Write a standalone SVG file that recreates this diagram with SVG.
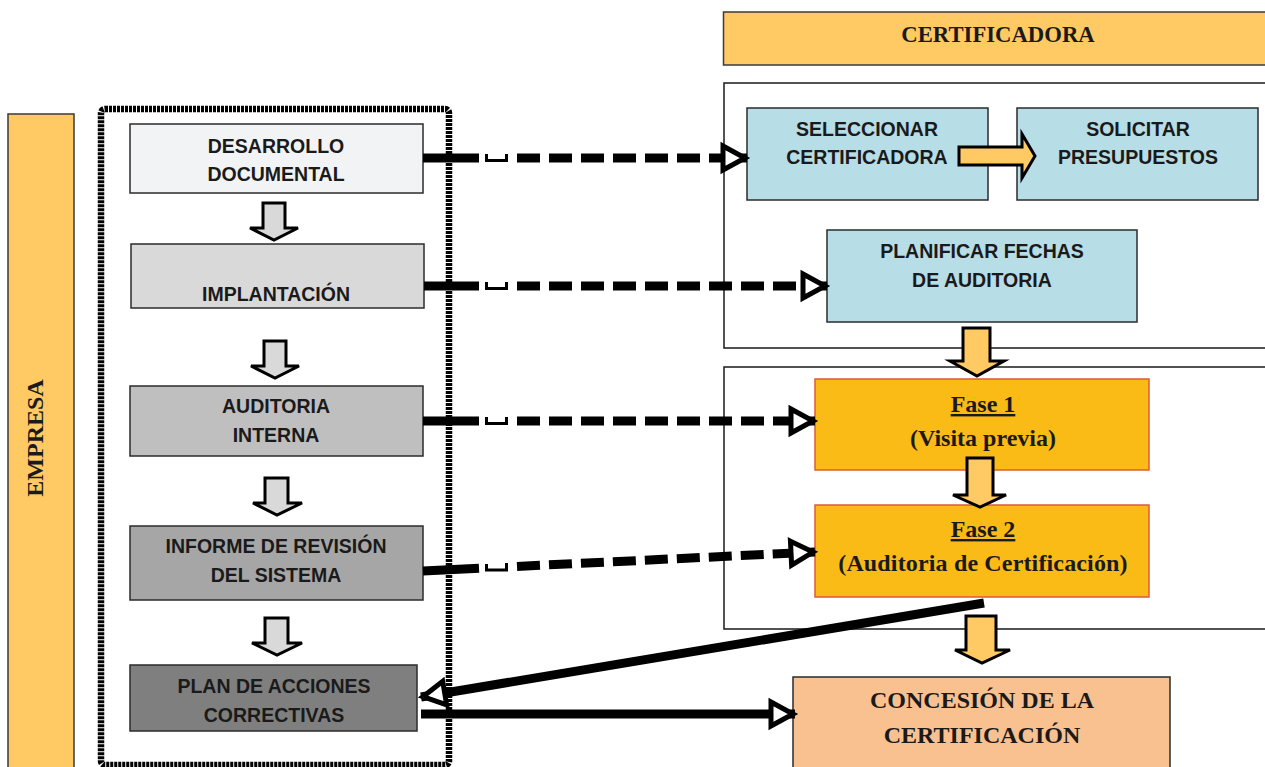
<svg xmlns="http://www.w3.org/2000/svg" width="1265" height="767" viewBox="0 0 1265 767">
<style>
.sans{font-family:"Liberation Sans",Arial,sans-serif;font-weight:bold;font-size:19.5px;fill:#1a1a1a;text-anchor:middle}
.serif{font-family:"Liberation Serif","Times New Roman",serif;font-weight:bold;font-size:24px;fill:#1a1a1a;text-anchor:middle}
.box{stroke:#2b2b2b;stroke-width:1.5}
.blue{fill:#B7DDE6;stroke:#2b2b2b;stroke-width:1.5}
.fase{fill:#FBBB17;stroke:#E0593A;stroke-width:1.5}
.frame{fill:none;stroke:#1a1a1a;stroke-width:1.5}
.garrow{fill:#D9D9D9;stroke:#000;stroke-width:3;stroke-linejoin:miter}
.yarrow{fill:#FFC964;stroke:#000;stroke-width:3}
.conn{fill:none;stroke:#000;stroke-width:9}
.dash{stroke-dasharray:23 9}
.jump{fill:none;stroke:#000;stroke-width:3}
</style>
<defs>
<marker id="hollow" markerUnits="userSpaceOnUse" markerWidth="34" markerHeight="34" viewBox="0 0 34 34" refX="27" refY="17" orient="auto">
<path d="M3,5 L25,17 L3,29 Z" fill="#fff" stroke="#000" stroke-width="5" stroke-linejoin="miter"/>
</marker>
</defs>
<rect width="1265" height="767" fill="#fff"/>

<g id="empresa">
<rect x="8" y="114" width="66" height="660" fill="#FFC964" stroke="#3a3a3a" stroke-width="1.5"/>
<text class="serif" transform="translate(43,438) rotate(-90)">EMPRESA</text>
</g>

<g id="empresa-frame">
<rect x="101" y="109" width="348" height="656" rx="4" fill="none" stroke="#000" stroke-width="6.5" stroke-dasharray="3 1"/>
</g>

<g id="certificadora">
<rect x="723.5" y="12" width="550" height="53" fill="#FFC964" stroke="#3a3a3a" stroke-width="1.5"/>
<text class="serif" x="998" y="42" style="font-size:22.7px">CERTIFICADORA</text>
</g>

<g id="cert-frame-1"><rect class="frame" x="724" y="83" width="560" height="265"/></g>
<g id="cert-frame-2"><rect class="frame" x="724" y="367" width="560" height="262"/></g>

<g id="desarrollo">
<rect class="box" x="130" y="124" width="293" height="69" fill="#F1F3F4"/>
<text class="sans" x="276" y="153">DESARROLLO</text>
<text class="sans" x="276" y="181">DOCUMENTAL</text>
</g>
<g id="implantacion">
<rect class="box" x="131" y="244" width="293" height="64" fill="#D9D9D9"/>
<text class="sans" x="276" y="301">IMPLANTACIÓN</text>
</g>
<g id="auditoria-interna">
<rect class="box" x="130" y="386" width="293" height="70" fill="#BFBFBF"/>
<text class="sans" x="276" y="413">AUDITORIA</text>
<text class="sans" x="276" y="442">INTERNA</text>
</g>
<g id="informe">
<rect class="box" x="130" y="526" width="293" height="74" fill="#A6A6A6"/>
<text class="sans" x="276" y="553">INFORME DE REVISIÓN</text>
<text class="sans" x="276" y="582">DEL SISTEMA</text>
</g>
<g id="plan">
<rect class="box" x="130" y="665" width="287" height="66" fill="#7F7F7F"/>
<text class="sans" x="274" y="693">PLAN DE ACCIONES</text>
<text class="sans" x="274" y="722">CORRECTIVAS</text>
</g>

<g id="seleccionar">
<rect class="blue" x="747" y="108" width="241" height="92"/>
<text class="sans" x="867" y="136">SELECCIONAR</text>
<text class="sans" x="867" y="164">CERTIFICADORA</text>
</g>
<g id="solicitar">
<rect class="blue" x="1017" y="108" width="241" height="92"/>
<text class="sans" x="1138" y="136">SOLICITAR</text>
<text class="sans" x="1138" y="164">PRESUPUESTOS</text>
</g>
<g id="planificar">
<rect class="blue" x="827" y="230" width="310" height="92"/>
<text class="sans" x="982" y="258">PLANIFICAR FECHAS</text>
<text class="sans" x="982" y="287">DE AUDITORIA</text>
</g>
<g id="fase1">
<rect class="fase" x="815" y="379" width="334" height="91"/>
<text class="serif" x="983" y="412" text-decoration="underline">Fase 1</text>
<text class="serif" x="983" y="446">(Visita previa)</text>
</g>
<g id="fase2">
<rect class="fase" x="815" y="505" width="334" height="92"/>
<text class="serif" x="983" y="537" text-decoration="underline">Fase 2</text>
<text class="serif" x="983" y="571" style="letter-spacing:0.15px">(Auditoria de Certificación)</text>
</g>
<g id="concesion">
<rect x="793" y="677" width="377" height="100" fill="#FAC190" stroke="#2b2b2b" stroke-width="1.5"/>
<text class="serif" x="982" y="708">CONCESIÓN DE LA</text>
<text class="serif" x="982" y="743">CERTIFICACIÓN</text>
</g>

<g id="connectors">
<path class="garrow" d="M263,203 H285 V228 H298 L274,240 L250,228 H263 Z"/>
<path class="garrow" d="M264,341 H286 V366 H299 L275,378 L251,366 H264 Z"/>
<path class="garrow" d="M265,478 H288 V503 H302 L277,515 L253,503 H265 Z"/>
<path class="garrow" d="M265,618 H288 V643 H302 L277,655 L252,643 H265 Z"/>
<path class="yarrow" d="M959,147 H1022 V134 L1035,156 L1022,178 V165 H959 Z"/>
<path class="yarrow" d="M963,328 H990 V361 H1004 L977,376 L950,361 H963 Z"/>
<path class="yarrow" d="M967,458 H993 V495 H1006 L980,507 L953,495 H967 Z"/>
<path class="yarrow" d="M966,616 H996 V650 H1010 L982,663 L955,650 H966 Z"/>
<line class="conn" x1="423" y1="158" x2="479" y2="158"/>
<path class="jump" d="M486.5,154 V160.5 H506.5 V154"/>
<line class="conn dash" x1="517" y1="158" x2="747" y2="158" marker-end="url(#hollow)"/>
<line class="conn" x1="424" y1="286" x2="479" y2="286"/>
<path class="jump" d="M486.5,282 V288.5 H506.5 V282"/>
<line class="conn dash" x1="517" y1="286" x2="827" y2="286" marker-end="url(#hollow)"/>
<line class="conn" x1="423" y1="421" x2="479" y2="421"/>
<path class="jump" d="M486.5,417 V423.5 H506.5 V417"/>
<line class="conn dash" x1="517" y1="421" x2="815" y2="421" marker-end="url(#hollow)"/>
<line class="conn" x1="423" y1="571" x2="479" y2="568.3"/>
<path class="jump" d="M486.5,564 V570 H506.5 V563"/>
<line class="conn dash" x1="517" y1="566.4" x2="815" y2="552" marker-end="url(#hollow)"/>
<line class="conn" x1="984" y1="603" x2="421" y2="697" marker-end="url(#hollow)"/>
<line class="conn" x1="421" y1="714" x2="795" y2="714" marker-end="url(#hollow)"/>
</g>
</svg>
